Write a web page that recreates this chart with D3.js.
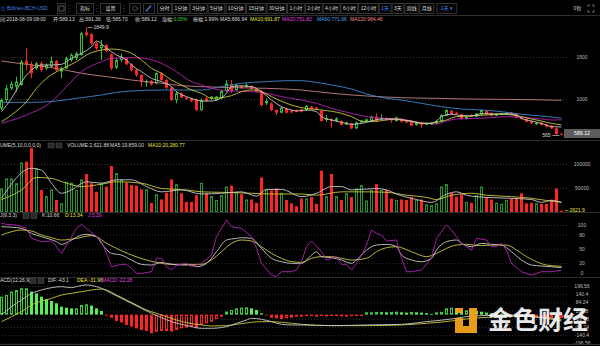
<!DOCTYPE html>
<html><head><meta charset="utf-8">
<script src="https://cdn.jsdelivr.net/npm/d3@7/dist/d3.min.js"></script>
<style>
html,body{margin:0;padding:0;background:#000;}
svg{display:block;}
text{font-family:"Liberation Sans","Noto Sans CJK SC",sans-serif;}
</style></head><body>
<svg id="chart" width="600" height="346"></svg>
<script>
// ---- daily candles, Bitfinex BCH/USD ----
const open = [889,988,1127,1147,1167,1456,1413,1365,1425,1365,
1385,1452,1325,1365,1464,1484,1524,1794,1774,1663,
1603,1643,1532,1373,1464,1484,1413,1345,1286,1195,
1214,1187,1306,1226,1135,988,1068,1016,1008,996,
869,1008,1008,988,1008,1095,1175,1107,1159,1147,
1155,1119,1095,948,948,869,837,889,861,869,
877,869,909,897,861,750,762,738,738,698,
710,651,722,738,738,790,758,770,762,738,
762,738,730,691,710,698,698,710,730,802,
861,837,818,762,810,790,818,861,833,802,
818,825,837,818,778,762,738,698,718,698,
683,651,589.13];
const close = [988,1127,1179,1206,1444,1413,1306,1425,1345,1405,
1452,1345,1365,1484,1524,1544,1782,1762,1663,1603,
1643,1571,1365,1464,1504,1413,1345,1286,1206,1214,
1175,1306,1226,1135,988,1068,1016,1000,976,869,
988,976,1028,1028,1095,1187,1095,1167,1135,1167,
1119,1087,929,976,869,837,897,837,841,849,
849,917,881,881,738,770,738,770,691,722,
651,722,738,758,790,738,770,754,746,782,
730,722,683,722,691,710,718,738,810,869,
818,822,762,790,794,825,869,818,802,822,
829,833,818,778,762,730,710,718,691,671,
651,583,589.12];
const high = [1008,1167,1206,1266,1464,1603,1444,1444,1444,1425,
1504,1464,1385,1504,1544,1563,1802,1849.9,1782,1683,
1702,1651,1544,1484,1544,1492,1425,1357,1294,1234,
1226,1318,1318,1238,1147,1087,1079,1024,1016,1008,
1008,1028,1036,1036,1107,1226,1226,1179,1167,1187,
1163,1127,1107,1008,960,877,909,897,869,877,
885,929,917,905,869,810,770,782,746,730,
718,730,746,766,802,829,818,778,770,790,
770,746,738,730,718,718,726,746,818,877,
869,849,825,798,818,833,877,869,841,829,
837,841,845,825,786,770,746,726,726,706,
691,659,591.36];
const low = [869,960,1107,1087,1159,1345,1246,1345,1325,1345,
1373,1325,1246,1357,1444,1464,1516,1742,1643,1583,
1464,1556,1345,1357,1444,1405,1325,1266,1147,1147,
1159,1175,1214,1119,976,948,1008,992,960,857,
857,968,984,976,1000,1087,1068,1095,1119,1135,
1111,1079,909,929,857,810,829,829,829,841,
841,857,873,869,730,730,659,730,683,691,
643,643,714,730,730,730,750,746,718,730,
722,710,675,683,659,691,691,702,722,794,
810,814,754,754,786,782,810,810,794,794,
810,818,810,770,754,722,702,691,683,663,
643,575,565.70];
const volume = [49000,70000,70000,60000,103000,105000,133000,91000,46000,33000,
47000,25000,18000,63000,61000,46000,68000,79000,60000,42000,
60000,53000,96000,81000,68000,61000,56000,55000,47000,47000,
19000,37000,26000,40000,68000,58000,39000,21000,21000,35000,
61000,39000,33000,25000,35000,53000,55000,42000,37000,26000,
26000,19000,72000,46000,45000,49000,40000,25000,18000,12000,
28000,28000,31000,17000,86000,33000,79000,33000,25000,39000,
31000,49000,56000,24000,46000,58000,46000,46000,28000,25000,
26000,25000,31000,25000,26000,16000,14000,18000,53000,58000,
40000,32000,37000,21000,19000,35000,53000,31000,26000,19000,
17000,25000,28000,28000,39000,18000,19000,18000,17000,17000,
26000,49000,2621.88];

// moving averages on price, as [candle index, value]
const ma5 = [[0,849],[2,1008],[4,1206],[6,1345],[8,1405],[10,1405],[12,1413],[14,1484],[16,1544],[18,1623],[19,1690],[21,1603],[23,1524],[25,1464],[26,1405],[28,1325],[30,1246],[32,1206],[34,1147],[35,1087],[37,1028],[39,988],[40,976],[42,976],[44,1016],[45,1068],[46,1147],[48,1155],[50,1147],[52,1087],[54,988],[56,909],[58,869],[59,857],[61,869],[63,849],[64,790],[66,750],[68,722],[70,698],[72,710],[74,738],[76,762],[78,762],[80,750],[82,738],[84,710],[86,710],[87,738],[88,790],[90,818],[92,802],[94,798],[96,825],[99,822],[101,825],[103,810],[104,770],[106,738],[108,710],[110,671],[112,666.94]];
const ma10 = [[0,730],[2,810],[5,968],[7,1127],[9,1246],[11,1325],[13,1385],[15,1444],[17,1524],[20,1583],[22,1595],[24,1583],[26,1544],[28,1464],[30,1365],[32,1306],[34,1226],[36,1167],[38,1107],[40,1068],[42,1008],[44,1016],[46,1040],[48,1087],[50,1107],[52,1087],[54,1028],[57,948],[60,897],[62,881],[64,869],[68,829],[70,790],[72,738],[74,730],[77,750],[79,762],[82,730],[85,710],[87,722],[89,750],[91,790],[94,798],[97,810],[100,818],[102,810],[104,790],[106,762],[108,738],[110,710],[112,691.87]];
const ma20 = [[0,710],[5,810],[10,968],[13,1147],[16,1325],[20,1444],[22,1484],[27,1492],[32,1425],[35,1325],[38,1206],[40,1167],[42,1127],[46,1095],[50,1087],[53,1068],[56,1028],[60,988],[63,948],[66,889],[70,829],[73,790],[77,770],[80,762],[82,738],[85,710],[87,702],[89,738],[91,762],[95,770],[98,778],[101,790],[105,778],[108,762],[110,750],[112,751.82]];
const ma60 = [[0,960],[6,960],[11,976],[15,1008],[20,1048],[23,1079],[26,1095],[32,1107],[40,1107],[44,1147],[48,1187],[53,1206],[57,1218],[60,1218],[62,1206],[66,1167],[70,1119],[73,1060],[77,1008],[80,988],[84,948],[88,909],[92,881],[96,869],[100,849],[104,818],[108,798],[112,771.66]];
const ma120 = [[0,1452],[6,1405],[11,1365],[16,1306],[21,1266],[26,1226],[32,1187],[36,1159],[40,1147],[46,1135],[53,1127],[60,1107],[66,1068],[73,1036],[80,1016],[87,1008],[93,1000],[100,996],[106,992],[112,984.46]];

// volume averages
const volMa5 = [[0,28500],[6,91000],[8,87000],[10,60000],[12,39000],[14,46000],[17,63000],[20,60000],[23,67000],[26,67000],[29,53000],[32,42000],[36,46000],[40,37500],[44,39000],[48,42000],[51,33000],[53,47000],[56,47000],[60,32000],[63,39000],[66,53000],[68,53000],[70,46000],[75,49000],[77,46000],[79,37500],[83,26000],[86,20000],[89,37000],[91,42000],[93,35000],[97,30500],[102,28500],[106,26000],[108,20000],[110,24000],[112,19859]];
const volMa10 = [[0,26000],[4,46000],[7,72000],[10,70000],[13,60000],[16,53000],[20,58000],[23,63000],[28,60000],[32,49000],[37,46000],[40,42000],[44,41000],[50,39000],[54,37500],[60,37500],[63,35000],[68,42000],[73,42000],[77,41000],[81,35000],[85,30500],[87,26000],[90,35000],[94,39000],[97,35000],[102,32000],[106,28500],[109,24000],[112,20280.77]];

// KDJ(9,3,3)
const kLine = [[0,96.5],[4,93],[6,82.5],[8,75.5],[11,65],[12,59.4],[14,68.5],[16,79],[17,80.4],[19,75.5],[20,61.5],[22,40.5],[24,37],[26,26.6],[28,17.5],[30,16.1],[32,21.7],[33,19.6],[36,16.1],[38,16.1],[39,12.6],[41,19.6],[43,44],[45,68.5],[47,72],[48,73.4],[50,72],[52,51],[54,30.1],[56,23.1],[58,19.6],[60,19.6],[62,37],[63,44],[64,33.6],[66,31.5],[68,26.6],[70,19.6],[71,26.6],[73,47.5],[75,58],[77,59.4],[79,54.5],[80,37],[82,26.6],[84,23.1],[86,30.1],[87,47.5],[89,65],[91,68.5],[92,61.5],[94,54.5],[96,61.5],[98,59.4],[100,58],[102,44],[104,26.6],[106,16.1],[108,14],[110,12.6],[112,10.66]];
const dLine = [[0,79],[2,86],[4,89.5],[6,87.4],[8,79],[10,73.4],[12,68.5],[15,72],[18,77.6],[19,75.5],[21,61.5],[23,51],[26,37],[29,26.6],[32,19.6],[34,17.5],[38,17.5],[40,17.5],[42,26.6],[44,44],[46,61.5],[48,68.5],[50,66.4],[52,54.5],[54,40.5],[56,30.1],[58,23.1],[60,21.7],[62,30.1],[64,33.6],[66,33.6],[68,30.1],[70,26.6],[73,30.1],[75,44],[77,52.4],[79,54.5],[82,44],[85,33.6],[87,40.5],[89,51],[91,58],[93,59.4],[96,56.6],[98,58],[101,58],[103,47.5],[105,33.6],[107,23.1],[109,16.1],[112,13.34]];
const jLine = [[0,103.5],[1,101.4],[3,100],[5,93],[6,72],[8,65],[10,66.4],[11,54.5],[12,40.5],[13,58],[14,75.5],[15,93],[16,101.4],[17,93],[19,75.5],[20,65],[21,40.5],[22,12.6],[24,17.5],[25,17.5],[26,9.1],[27,-1.4],[28,-1.4],[30,2.1],[31,30.1],[32,30.1],[33,12.6],[34,5.6],[35,16.1],[37,19.6],[38,12.6],[40,19.6],[42,37],[43,75.5],[45,110.4],[46,96.5],[48,93],[50,75.5],[51,51],[52,19.6],[54,-4.9],[55,-8.4],[56,2.1],[58,2.1],[59,5.6],[60,23.1],[61,54.5],[62,66.4],[64,44],[65,26.6],[66,30.1],[67,33.6],[68,17.5],[69,17.5],[70,5.6],[71,19.6],[72,37],[73,58],[74,89.5],[75,82.5],[76,79],[77,66.4],[79,68.5],[80,30.1],[81,2.1],[82,2.1],[84,5.6],[86,30.1],[87,72],[89,100],[90,89.5],[92,61.5],[94,47.5],[95,72],[97,68.5],[98,54.5],[99,54.5],[100,61.5],[101,47.5],[102,19.6],[104,2.1],[106,-4.9],[108,2.1],[110,2.1],[112,5.29]];

// MACD(12,26,9)
const macdHist = [123,135,158,169,181,181,158,146,123,107,
94,78,55,48,43,43,66,71,62,43,
25,-7,-21,-43,-53,-71,-82,-94,-105,-112,
-128,-117,-112,-112,-117,-105,-94,-89,-82,-94,
-71,-59,-48,-30,-14,21,32,43,48,50,
43,32,9,-2,-21,-25,-30,-25,-21,-14,
-14,-7,-2,-14,-9,-12,-9,-7,-12,-14,
-10,-5,-2,16,16,18,18,16,18,20,
16,14,18,16,14,10,5,16,18,43,
48,45,25,30,30,25,20,14,10,5,
8,2,-5,-10,-15,-18,-20,-16,-18,-22,
-25,-30,-22.28];
const difLine = [[0,-2.3],[2,54.9],[4,100.6],[6,146.3],[8,169.1],[10,185.1],[12,192],[14,185.1],[15,192],[17,203.4],[19,192],[20,180.6],[22,146.3],[24,112],[26,77.7],[28,43.4],[30,9.1],[32,-20.6],[34,-48],[36,-66.3],[38,-82.3],[40,-93.7],[42,-93.7],[45,-82.3],[47,-59.4],[49,-36.6],[50,-25.1],[52,-32],[54,-48],[56,-66.3],[58,-70.9],[60,-70.9],[66,-75.4],[73,-70.9],[80,-66.3],[85,-48],[90,-29.7],[93,-13.7],[96,-6.9],[100,-2.3],[104,-6.9],[108,-20.6],[112,-43.1]];
const deaLine = [[0,-48],[2,-13.7],[4,20.6],[6,66.3],[10,112],[12,134.9],[14,146.3],[16,157.7],[18,169.1],[20,176],[21,169.1],[23,134.9],[25,100.6],[27,66.3],[29,32],[31,9.1],[33,-13.7],[35,-36.6],[37,-54.9],[40,-70.9],[42,-77.7],[45,-75.4],[47,-66.3],[50,-52.6],[52,-48],[54,-48],[56,-52.6],[58,-59.4],[60,-66.3],[66,-75.4],[73,-75.4],[80,-70.9],[85,-59.4],[90,-43.4],[93,-29.7],[96,-20.6],[100,-13.7],[104,-11.4],[108,-18.3],[112,-31.96]];

// axis ticks
const priceTicks = [1500, 1000];
const volTicks = [100000, 50000];
const kdjTicks = [100, 80, 50, 20, 0];
const macdTicks = [196.56, 140.4, 84.24, 28.08, -28.08, -84.24, -140.4, -196.56];

const periods = ['分时','1分钟','3分钟','5分钟','10分钟','15分钟','30分钟','1小时','2小时','4小时','6小时','12小时','1天','3天','周线','月线'];
const activePeriod = '1天';

// ---- drawing ----
const W = 600, H = 346, plotRight = 567, axisX = 582;
const RED = '#ff2424', GREEN = '#2fbf2f', VGREEN = '#22992a';
const C_MA5 = '#c8c8c8', C_MA10 = '#c9c93a', C_MA20 = '#b422b4', C_MA60 = '#3b88cc', C_MA120 = '#c48282';
const svg = d3.select('#chart');
svg.append('rect').attr('width', W).attr('height', H).attr('fill', '#000');

const n = close.length;
const x = d3.scaleLinear().domain([0, n - 1]).range([1.5, 561.5]);
const yP = d3.scaleLinear().domain([1000, 1500]).range([99, 57]);
const yV = d3.scaleLinear().domain([0, 100000]).range([212, 164]);
const yK = d3.scaleLinear().domain([0, 100]).range([272.7, 225]);
const yM = d3.scaleLinear().domain([-196.56, 196.56]).range([343.3, 286]);

const defs = svg.append('defs');
function pane(id, y0, y1) {
  defs.append('clipPath').attr('id', id).append('rect')
    .attr('x', 0).attr('y', y0).attr('width', plotRight).attr('height', y1 - y0);
  return svg.append('g').attr('clip-path', `url(#${id})`);
}

// grid + right labels through d3 axes
function gridAndLabels(scale, ticks, fmt) {
  const g = svg.append('g').attr('transform', `translate(${plotRight},0)`)
    .call(d3.axisLeft(scale).tickValues(ticks).tickSize(plotRight).tickFormat(''));
  g.select('.domain').remove();
  g.selectAll('line').attr('stroke', '#3c3c3c').attr('stroke-dasharray', '1,2').attr('stroke-width', 0.8);
  const a = svg.append('g').attr('transform', `translate(${axisX},0)`)
    .call(d3.axisRight(scale).tickValues(ticks).tickSize(0).tickPadding(0).tickFormat(fmt));
  a.select('.domain').remove();
  a.selectAll('text').attr('text-anchor', 'middle').attr('fill', '#bdbdbd')
    .attr('font-size', 5).attr('font-family', '"Liberation Sans",sans-serif');
}
gridAndLabels(yP, priceTicks, d3.format('d'));
gridAndLabels(yV, volTicks, d3.format('d'));
gridAndLabels(yK, kdjTicks, d3.format('d'));
gridAndLabels(yM, macdTicks, d => String(d));

// pane separators
[15.5, 140.5, 212.5, 277.5, 344.5].forEach(yy => {
  svg.append('line').attr('x1', 0).attr('x2', W).attr('y1', yy).attr('y2', yy)
    .attr('stroke', '#2e2e2e').attr('stroke-width', 1);
});

const idx = d3.range(n);
const isUp = i => close[i] >= open[i];

// ---- price pane ----
const gMain = pane('clipMain', 16, 140);
gMain.selectAll('line.wick').data(idx).join('line')
  .attr('x1', i => x(i)).attr('x2', i => x(i))
  .attr('y1', i => yP(high[i])).attr('y2', i => yP(low[i]))
  .attr('stroke', i => isUp(i) ? GREEN : RED).attr('stroke-width', 1);
gMain.selectAll('rect.body').data(idx).join('rect')
  .each(function(i) {
    const top = yP(Math.max(open[i], close[i]));
    const h = Math.max(1, Math.abs(yP(open[i]) - yP(close[i])));
    const r = d3.select(this);
    if (isUp(i)) {
      r.attr('x', x(i) - 1).attr('width', 2).attr('y', top + 0.5).attr('height', Math.max(0.5, h - 1))
        .attr('fill', '#000').attr('stroke', GREEN).attr('stroke-width', 1);
    } else {
      r.attr('x', x(i) - 1.5).attr('width', 3).attr('y', top).attr('height', h).attr('fill', RED);
    }
  });

const lineP = d3.line().x(d => x(d[0])).y(d => yP(d[1])).curve(d3.curveMonotoneX);
[[ma120, C_MA120], [ma60, C_MA60], [ma20, C_MA20], [ma10, C_MA10], [ma5, C_MA5]].forEach(([data, c]) => {
  gMain.append('path').datum(data).attr('d', lineP).attr('fill', 'none').attr('stroke', c).attr('stroke-width', 0.9);
});

// highest / lowest markers
const iMax = d3.maxIndex(high), iMin = d3.minIndex(low);
svg.append('line').attr('x1', x(iMax) + 1).attr('x2', x(iMax) + 6)
  .attr('y1', yP(high[iMax])).attr('y2', yP(high[iMax])).attr('stroke', '#ccc').attr('stroke-width', 0.7);
svg.append('text').attr('x', x(iMax) + 7).attr('y', yP(high[iMax])).attr('dominant-baseline', 'middle')
  .attr('font-size', 5).attr('fill', '#ddd').text(high[iMax].toFixed(1));
svg.append('line').attr('x1', x(iMin) - 9).attr('x2', x(iMin) - 2)
  .attr('y1', yP(low[iMin])).attr('y2', yP(low[iMin])).attr('stroke', '#ccc').attr('stroke-width', 0.7);
svg.append('text').attr('x', x(iMin) - 11).attr('y', yP(low[iMin])).attr('dominant-baseline', 'middle')
  .attr('text-anchor', 'end').attr('font-size', 5).attr('fill', '#ddd').text(Math.floor(low[iMin]));

// last price tag
const lastY = yP(close[n - 1]);
svg.append('rect').attr('x', 564).attr('y', lastY - 4.5).attr('width', 36).attr('height', 9).attr('fill', '#5c5c5c');
svg.append('text').attr('x', axisX).attr('y', lastY).attr('dominant-baseline', 'middle').attr('text-anchor', 'middle')
  .attr('font-size', 5.2).attr('fill', '#fff').text(close[n - 1].toFixed(2));

// ---- volume pane ----
const gVol = pane('clipVol', 148, 212.5);
gVol.selectAll('rect.vol').data(idx).join('rect')
  .each(function(i) {
    const top = yV(volume[i]);
    const h = Math.max(1, yV(0) - top);
    const r = d3.select(this);
    if (isUp(i)) {
      r.attr('x', x(i) - 1).attr('width', 2).attr('y', top + 0.5).attr('height', Math.max(0.5, h - 1))
        .attr('fill', 'none').attr('stroke', VGREEN).attr('stroke-width', 1);
    } else {
      r.attr('x', x(i) - 1.5).attr('width', 3).attr('y', top).attr('height', h).attr('fill', RED);
    }
  });
const lineV = d3.line().x(d => x(d[0])).y(d => yV(d[1])).curve(d3.curveMonotoneX);
gVol.append('path').datum(volMa10).attr('d', lineV).attr('fill', 'none').attr('stroke', C_MA10).attr('stroke-width', 0.9);
gVol.append('path').datum(volMa5).attr('d', lineV).attr('fill', 'none').attr('stroke', C_MA5).attr('stroke-width', 0.9);
const vLast = yV(volume[n - 1]);
svg.append('line').attr('x1', x(n - 1) + 3).attr('x2', x(n - 1) + 7).attr('y1', vLast).attr('y2', vLast)
  .attr('stroke', '#e6e640').attr('stroke-width', 0.7);
svg.append('text').attr('x', x(n - 1) + 8).attr('y', vLast).attr('dominant-baseline', 'middle')
  .attr('font-size', 5).attr('fill', '#e6e640').text(volume[n - 1].toFixed(1).slice(0, 6));

// ---- KDJ pane ----
const gK = pane('clipKdj', 219, 277.5);
const lineK = d3.line().x(d => x(d[0])).y(d => yK(d[1])).curve(d3.curveMonotoneX);
const lineJ = d3.line().x(d => x(d[0])).y(d => yK(d[1]));
gK.append('path').datum(dLine).attr('d', lineK).attr('fill', 'none').attr('stroke', C_MA10).attr('stroke-width', 0.9);
gK.append('path').datum(kLine).attr('d', lineK).attr('fill', 'none').attr('stroke', C_MA5).attr('stroke-width', 0.9);
gK.append('path').datum(jLine).attr('d', lineJ).attr('fill', 'none').attr('stroke', C_MA20).attr('stroke-width', 0.9);

// ---- MACD pane ----
const gM = pane('clipMacd', 284, 344);
const y0M = yM(0);
gM.selectAll('rect.hist').data(idx).join('rect')
  .each(function(i) {
    const v = macdHist[i];
    const prev = i > 0 ? macdHist[i - 1] : v;
    const hollow = v >= prev;
    const yv = yM(v);
    const top = Math.min(yv, y0M), h = Math.max(0.8, Math.abs(yv - y0M));
    const pos = v >= 0;
    const r = d3.select(this);
    if (hollow) {
      r.attr('x', x(i) - 1).attr('width', 2).attr('y', top + 0.5).attr('height', Math.max(0.4, h - 1))
        .attr('fill', 'none').attr('stroke', pos ? '#3ccf3c' : RED).attr('stroke-width', 1);
    } else {
      r.attr('x', x(i) - 1.5).attr('width', 3).attr('y', top).attr('height', h)
        .attr('fill', pos ? '#55f055' : RED);
    }
  });
const lineM = d3.line().x(d => x(d[0])).y(d => yM(d[1])).curve(d3.curveMonotoneX);
gM.append('path').datum(deaLine).attr('d', lineM).attr('fill', 'none').attr('stroke', C_MA10).attr('stroke-width', 0.9);
gM.append('path').datum(difLine).attr('d', lineM).attr('fill', 'none').attr('stroke', C_MA5).attr('stroke-width', 0.9);

// ---- header rows ----
function row(y, parts) {
  parts.forEach(([px, txt, col]) => {
    svg.append('text').attr('x', px).attr('y', y).attr('dominant-baseline', 'middle')
      .attr('font-size', 5).attr('fill', col).text(txt);
  });
}
function iconPair(x0, y) {
  [x0, x0 + 8].forEach(ix => {
    svg.append('rect').attr('x', ix).attr('y', y - 2.5).attr('width', 6).attr('height', 5)
      .attr('fill', '#2a2a2a').attr('stroke', '#555').attr('stroke-width', 0.5);
  });
}
const WHITE = '#dcdcdc', YEL = '#e6e640', MAG = '#e040e0';
row(19.5, [[-5, '时间:2018-08-09 08:00', WHITE], [53, '开:589.13', WHITE], [79, '高:591.36', WHITE],
  [106, '低:565.70', WHITE], [135, '收:589.12', WHITE]]);
const zf = svg.append('text').attr('x', 162).attr('y', 19.5).attr('dominant-baseline', 'middle').attr('font-size', 5);
zf.append('tspan').attr('fill', WHITE).text('涨幅:');
zf.append('tspan').attr('fill', '#36d336').text('0.05%');
row(19.5, [[193, '振幅:1.99%', WHITE], [220, 'MA5:666.94', WHITE], [250, 'MA10:691.87', YEL],
  [282, 'MA20:751.82', MAG], [317, 'MA60:771.66', '#4aa3f0'], [350, 'MA120:984.46', '#f08a8a']]);

row(145.5, [[-10, 'VOLUME(5,10,0,0,0,0)', WHITE], [67, 'VOLUME:2,621.88', WHITE],
  [110, 'MA5:19,859.00', WHITE], [148, 'MA10:20,280.77', YEL]]);
iconPair(48, 145.5);
row(216, [[-7, 'KDJ(9,3,3)', WHITE], [42, 'K:10.66', WHITE], [65, 'D:13.34', YEL], [88, 'J:5.29', MAG]]);
iconPair(23, 216);
row(281, [[-4, 'MACD(12,26,9)', WHITE], [48, 'DIF:-43.1', WHITE], [77, 'DEA:-31.96', YEL], [102, 'MACD:-22.28', MAG]]);
iconPair(30, 281);

// ---- toolbar ----
const tb = svg.append('g');
tb.append('text').attr('x', 0.5).attr('y', 8.5).attr('dominant-baseline', 'middle').attr('font-size', 5)
  .attr('fill', '#3d86e6').text('☆ Bitfinex-BCH-USD');
function box(x0, w, stroke) {
  tb.append('rect').attr('x', x0 + 0.5).attr('y', 3.5).attr('width', w).attr('height', 10)
    .attr('fill', '#050505').attr('stroke', stroke || '#333').attr('stroke-width', 1);
}
function label(cx, txt, col) {
  return tb.append('text').attr('x', cx).attr('y', 8.7).attr('dominant-baseline', 'middle')
    .attr('text-anchor', 'middle').attr('font-size', 5).attr('fill', col || '#d8d8d8').text(txt);
}
function dots(cx) {
  [5.5, 8.5, 11.5].forEach(dy => tb.append('circle').attr('cx', cx).attr('cy', dy).attr('r', 0.5).attr('fill', '#666'));
}
box(57, 8); tb.append('rect').attr('x', 59).attr('y', 6).attr('width', 5).attr('height', 5)
  .attr('fill', 'none').attr('stroke', '#888').attr('stroke-width', 0.6);
dots(69);
box(76, 17); label(85, '指标');
dots(97);
box(100, 20); label(110.5, '设置');
dots(124);
box(129, 11);
tb.append('circle').attr('cx', 135).attr('cy', 8.5).attr('r', 2.3).attr('fill', 'none')
  .attr('stroke', '#888').attr('stroke-width', 0.8).attr('stroke-dasharray', '1,0.7');
box(143, 11);
tb.append('line').attr('x1', 146).attr('y1', 11.5).attr('x2', 151).attr('y2', 5.5)
  .attr('stroke', '#3d86e6').attr('stroke-width', 1.2);
let bx = 157;
periods.forEach(p => {
  const t = label(0, p, p === activePeriod ? '#3d86e6' : '#d8d8d8');
  const w = t.node().getComputedTextLength() + 4;
  box(bx, w);
  t.raise().attr('x', bx + 0.5 + w / 2);
  bx += w + 1;
});
box(bx + 2, 20); label(bx + 12.5, activePeriod + ' ▾', '#3d86e6');
label(577.5, '0秒', '#cfcfcf');
[[588, 5, 1, 1], [594, 5, -1, 1], [588, 12, 1, -1], [594, 12, -1, -1]].forEach(([cx, cy, sx, sy]) => {
  tb.append('path').attr('d', `M${cx},${cy + 2 * sy}V${cy}H${cx + 2 * sx}`).attr('fill', 'none')
    .attr('stroke', '#999').attr('stroke-width', 0.7);
});

// ---- watermark ----
const wm = svg.append('g').attr('opacity', 0.95);
const ORANGE = '#f4a21c';
[[455, 308, 8, 5], [469, 308, 8, 25], [455, 326, 22, 7], [455, 318, 8, 15]].forEach(([rx, ry, rw, rh]) => {
  wm.append('rect').attr('x', rx).attr('y', ry).attr('width', rw).attr('height', rh).attr('fill', ORANGE);
});
wm.append('text').attr('x', 488).attr('y', 329).attr('font-size', 25).attr('font-weight', 'bold')
  .attr('font-family', '"Noto Sans CJK SC",sans-serif').attr('fill', '#f4f4f4').text('金色财经');
</script>
</body></html>
